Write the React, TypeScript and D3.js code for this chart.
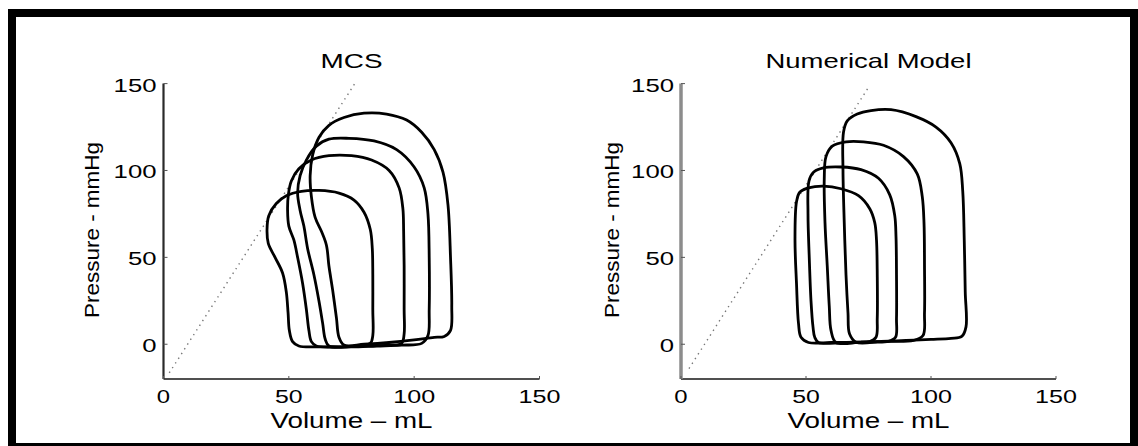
import React from 'react';
import * as d3 from 'd3';

type Pt = [number, number];

const xTicks = [0, 50, 100, 150];
const yTicks = [0, 50, 100, 150];
const titles = ['MCS', 'Numerical Model'];
const xLabel = 'Volume – mL';
const yLabel = 'Pressure - mmHg';

// MCS pressure-volume loops (V mL, P mmHg)
const mcsLoop1: Pt[] = [[54,-1],[62,-1.5],[70,-1.5],[78,-1],[82.5,0.5],[83.5,5],[83.5,20],[83.5,40],[83.3,55],[82.5,66],[80,76],[76,83],[70,87],[62,88.5],[55,88],[49,85.5],[45,81],[42,74],[41.3,66],[41.8,58],[44.5,50],[47.5,41],[49,30],[49.7,18],[50.2,8],[51.5,1.5]];
const mcsLoop2: Pt[] = [[61,-1],[70,-1.5],[80,-1],[90,-0.5],[95,0.5],[96,6],[96,20],[96,45],[95.8,65],[95.5,78],[94,90],[90,100],[83,106],[75,108.5],[66,108.5],[59,106],[54,101],[51,94],[49.8,86],[49.5,77],[50,68],[52,60],[53.5,50],[55.5,35],[57,20],[58,8],[59,1.5]];
const mcsLoop3: Pt[] = [[66,-1],[75,-1.5],[85,-1],[95,-0.5],[103,0.5],[105.5,5],[106,20],[106,50],[105.5,75],[104,90],[100,102],[93,112],[84,117],[74,118.5],[66,118],[61,114],[57,106],[54.5,97],[53.5,87],[54.5,77],[56,68],[57.5,55],[60,40],[62,25],[63.5,12],[64.5,3]];
const mcsLoop4: Pt[] = [[72,-0.5],[80,0],[90,1],[100,2.5],[108,4],[112,4.5],[114.5,8],[115,22],[114.5,50],[113.5,80],[111.5,99],[108,112],[103,122],[97,129],[89,132.5],[80,133],[72,130.5],[66,126],[62,119],[59.5,109],[58.5,97],[59,85],[60.5,73],[63,65],[65,57],[66,45],[67.5,31],[69,15],[70,4]];

// Numerical model loops
const numLoop1: Pt[] = [[51,1],[60,1],[70,1.2],[75.5,1.6],[78,4],[78.5,15],[78.5,40],[78.2,60],[77.5,70],[75.5,78],[71,85.5],[64,89.5],[57,91],[51,90],[47.5,87.5],[46.2,82],[45.6,60],[46.2,35],[47,12],[48,4]];
const numLoop2: Pt[] = [[55,1],[65,1],[75,1.3],[83,1.7],[85.8,4],[86.2,15],[86.2,40],[86,62],[85.5,74],[83.5,86],[79,95.5],[72,100.5],[64,102],[57,101.5],[53,99],[51.2,94],[50.8,75],[51.3,50],[52,25],[52.8,10],[53.5,4]];
const numLoop3: Pt[] = [[62,1],[72,1.2],[82,1.6],[93,2.2],[96.8,5],[97.4,18],[97.4,45],[97.2,70],[96.5,85],[94.5,98],[89,108],[81,114.5],[73,116.5],[66,116.5],[60.5,114],[58,108],[57.3,95],[57.6,70],[58.5,45],[59.3,22],[60,8]];
const numLoop4: Pt[] = [[70,1.2],[80,1.6],[90,2.2],[100,2.8],[108,3.4],[112.3,4.5],[114,10],[113.7,30],[113.3,60],[112.7,88],[111.5,104],[108,116],[102,125],[94,131],[84,135],[76,134.5],[70.5,132.5],[66.5,128.5],[65,122],[64.8,100],[65.3,70],[66,40],[66.8,18],[67.4,6]];

const mcsLoops = [mcsLoop1, mcsLoop2, mcsLoop3, mcsLoop4];
const numLoops = [numLoop1, numLoop2, numLoop3, numLoop4];

const mcsEspvr: Pt[] = [[2.3, -16.5], [76.3, 150]];
const numEspvr: Pt[] = [[3.2, -14], [75.5, 149]];

const panels = [
  { title: titles[0], loops: mcsLoops, espvr: mcsEspvr, x0: 163.5, x1: 539.5, yAxisColor: '#2a2a2a', yAxisW: 2.2, yLabX: 99, titleLen: 62 },
  { title: titles[1], loops: numLoops, espvr: numEspvr, x0: 681, x1: 1056, yAxisColor: '#8c8c8c', yAxisW: 3.5, yLabX: 619, titleLen: 206 },
];

const FONT = "'Liberation Sans', Arial, Helvetica, sans-serif";

const digitW = 14.3;

function Panel({ p }: { p: typeof panels[number] }) {
  const x = d3.scaleLinear().domain([0, 150]).range([p.x0, p.x1]);
  const y = d3.scaleLinear().domain([-20, 150]).range([379, 83.6]);
  const line = d3.line<Pt>().x(d => x(d[0])).y(d => y(d[1])).curve(d3.curveCatmullRomClosed.alpha(0.5));
  const straight = d3.line<Pt>().x(d => x(d[0])).y(d => y(d[1]));
  const cx = (p.x0 + p.x1) / 2;
  return (
    <g>
      {/* ESPVR dotted */}
      <path d={straight(p.espvr) || ''} fill="none" stroke="#777" strokeWidth={1.4} strokeDasharray="1.4 4.2" />
      {/* axes */}
      <line x1={x(0)} x2={x(150)} y1={y(-20)} y2={y(-20)} stroke="#505050" strokeWidth={1.8} />
      <line x1={x(0)} x2={x(0)} y1={y(-20)} y2={y(150)} stroke={p.yAxisColor} strokeWidth={p.yAxisW} />
      {yTicks.map(t => (
        <g key={'y' + t}>
          <line x1={x(0)} x2={x(0) + 4} y1={y(t)} y2={y(t)} stroke="#555" strokeWidth={1} />
          <text x={x(0) - 7} y={y(t) + 8} textAnchor="end" fontSize={19} fontFamily={FONT} fill="#000"
            textLength={String(t).length * digitW} lengthAdjust="spacingAndGlyphs">{t}</text>
        </g>
      ))}
      {xTicks.map(t => (
        <g key={'x' + t}>
          <line x1={x(t)} x2={x(t)} y1={y(-20)} y2={y(-20) - 3} stroke="#555" strokeWidth={1} />
          <text x={x(t)} y={403} textAnchor="middle" fontSize={19} fontFamily={FONT} fill="#000"
            textLength={String(t).length * digitW - 1} lengthAdjust="spacingAndGlyphs">{t}</text>
        </g>
      ))}
      {/* loops */}
      {p.loops.map((l, i) => (
        <path key={i} d={line(l) || ''} fill="none" stroke="#000" strokeWidth={2.8} strokeLinejoin="round" />
      ))}
      <text x={cx} y={68} textAnchor="middle" fontSize={21} fontFamily={FONT} fill="#000"
        textLength={p.titleLen} lengthAdjust="spacingAndGlyphs">{p.title}</text>
      <text x={cx} y={428} textAnchor="middle" fontSize={22} fontFamily={FONT} fill="#000"
        textLength={162} lengthAdjust="spacingAndGlyphs">{xLabel}</text>
      <text transform={`translate(${p.yLabX},230) rotate(-90)`} textAnchor="middle" fontSize={21} fontFamily={FONT} fill="#000"
        textLength={176} lengthAdjust="spacingAndGlyphs">{yLabel}</text>
    </g>
  );
}

export default function App() {
  return (
    <svg width={1138} height={446} style={{ position: 'absolute', left: 0, top: 0, background: '#fff' }}>
      <rect x={0} y={0} width={1138} height={446} fill="#fff" />
      <rect x={8} y={9} width={1130} height={437} fill="#000" />
      <rect x={16} y={17} width={1114} height={426} fill="#fff" />
      {panels.map((p, i) => <Panel key={i} p={p} />)}
    </svg>
  );
}
